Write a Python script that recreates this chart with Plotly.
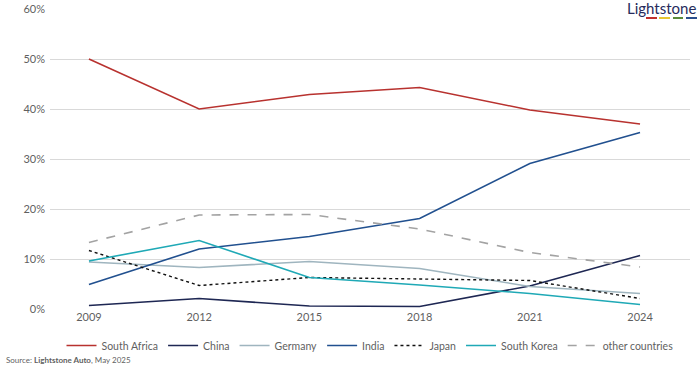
import plotly.graph_objects as go

years = [2009, 2012, 2015, 2018, 2021, 2024]
south_africa = [50.0, 40.0, 42.9, 44.3, 39.8, 37.0]
china = [0.7, 2.1, 0.6, 0.5, 4.6, 10.7]
germany = [9.4, 8.3, 9.5, 8.1, 4.5, 3.1]
india = [4.9, 12.0, 14.5, 18.1, 29.1, 35.3]
japan = [11.7, 4.7, 6.3, 6.0, 5.7, 2.1]
south_korea = [9.6, 13.7, 6.3, 4.8, 3.1, 0.9]
other_countries = [13.3, 18.8, 18.9, 16.0, 11.3, 8.4]
y_ticks = [0, 10, 20, 30, 40, 50, 60]
y_tick_labels = ["0%", "10%", "20%", "30%", "40%", "50%", "60%"]

series = [
    ("South Africa", south_africa, "#b8322f", "solid", 1.6),
    ("China", china, "#1e2753", "solid", 1.6),
    ("Germany", germany, "#9fb5bf", "solid", 1.6),
    ("India", india, "#21508f", "solid", 1.6),
    ("Japan", japan, "#111111", "dot", 1.4),
    ("South Korea", south_korea, "#1fa9b6", "solid", 1.6),
    ("other countries", other_countries, "#a3a3a3", "dash", 1.6),
]

FONT = "Lato, Open Sans, sans-serif"
fig = go.Figure()
for name, vals, color, dash, w in series:
    fig.add_trace(go.Scatter(
        x=years, y=vals, name=name, mode="lines",
        line=dict(color=color, width=w, dash=dash),
    ))

fig.update_layout(
    width=700, height=368,
    margin=dict(l=50, r=10, t=9, b=59, autoexpand=False),
    paper_bgcolor="white", plot_bgcolor="white",
    font=dict(family=FONT, color="#5f5f5f", size=11),
    showlegend=True,
    legend=dict(orientation="h", x=0.5, xanchor="center", y=(309 - 331) / 300, yanchor="top",
                font=dict(size=10.5, color="#5f5f5f"), itemwidth=30, tracegroupgap=0),
    xaxis=dict(range=[2007.94, 2025.36], tickvals=years, ticktext=[str(y) for y in years],
               showgrid=False, zeroline=False, showline=False, ticks="",
               tickfont=dict(size=11, color="#5f5f5f")),
    yaxis=dict(range=[0, 60], tickvals=y_ticks, ticktext=y_tick_labels,
               showgrid=True, gridcolor="#d9d9d9", gridwidth=1, zeroline=False,
               showline=False, ticks="", ticklabelstandoff=4,
               tickfont=dict(size=11, color="#5f5f5f")),
)

def px_x(p):
    return (p - 50) / 640

def px_y(p):
    return (309 - p) / 300

# white patch behind the logo (hides the top gridline there)
fig.add_shape(type="rect", xref="paper", yref="paper", layer="above",
              x0=px_x(617), x1=px_x(700), y0=px_y(22), y1=px_y(0),
              fillcolor="white", line=dict(width=0))

# logo text
fig.add_annotation(
    text="Lightstone", xref="paper", yref="paper", x=px_x(698), y=px_y(-3),
    xanchor="right", yanchor="top", showarrow=False,
    font=dict(family=FONT, size=15, color="#262b5c"),
)
for (x0, x1), c in zip([(646, 657), (659, 670), (673, 683), (686, 697)],
                       ["#c0302c", "#e8c630", "#5a8a3a", "#2a4e8e"]):
    fig.add_shape(type="line", xref="paper", yref="paper", layer="above",
                  x0=px_x(x0), x1=px_x(x1), y0=px_y(18), y1=px_y(18),
                  line=dict(color=c, width=2))

fig.add_annotation(
    text="Source: <b>Lightstone Auto</b>, May 2025", xref="paper", yref="paper",
    x=px_x(4), y=px_y(360), xanchor="left", yanchor="middle",
    showarrow=False, font=dict(family=FONT, size=8, color="#5f5f5f"),
)

fig.write_html("out.html", config={"displayModeBar": False},
               post_script="document.body.style.margin='0';document.body.style.overflow='hidden';")
